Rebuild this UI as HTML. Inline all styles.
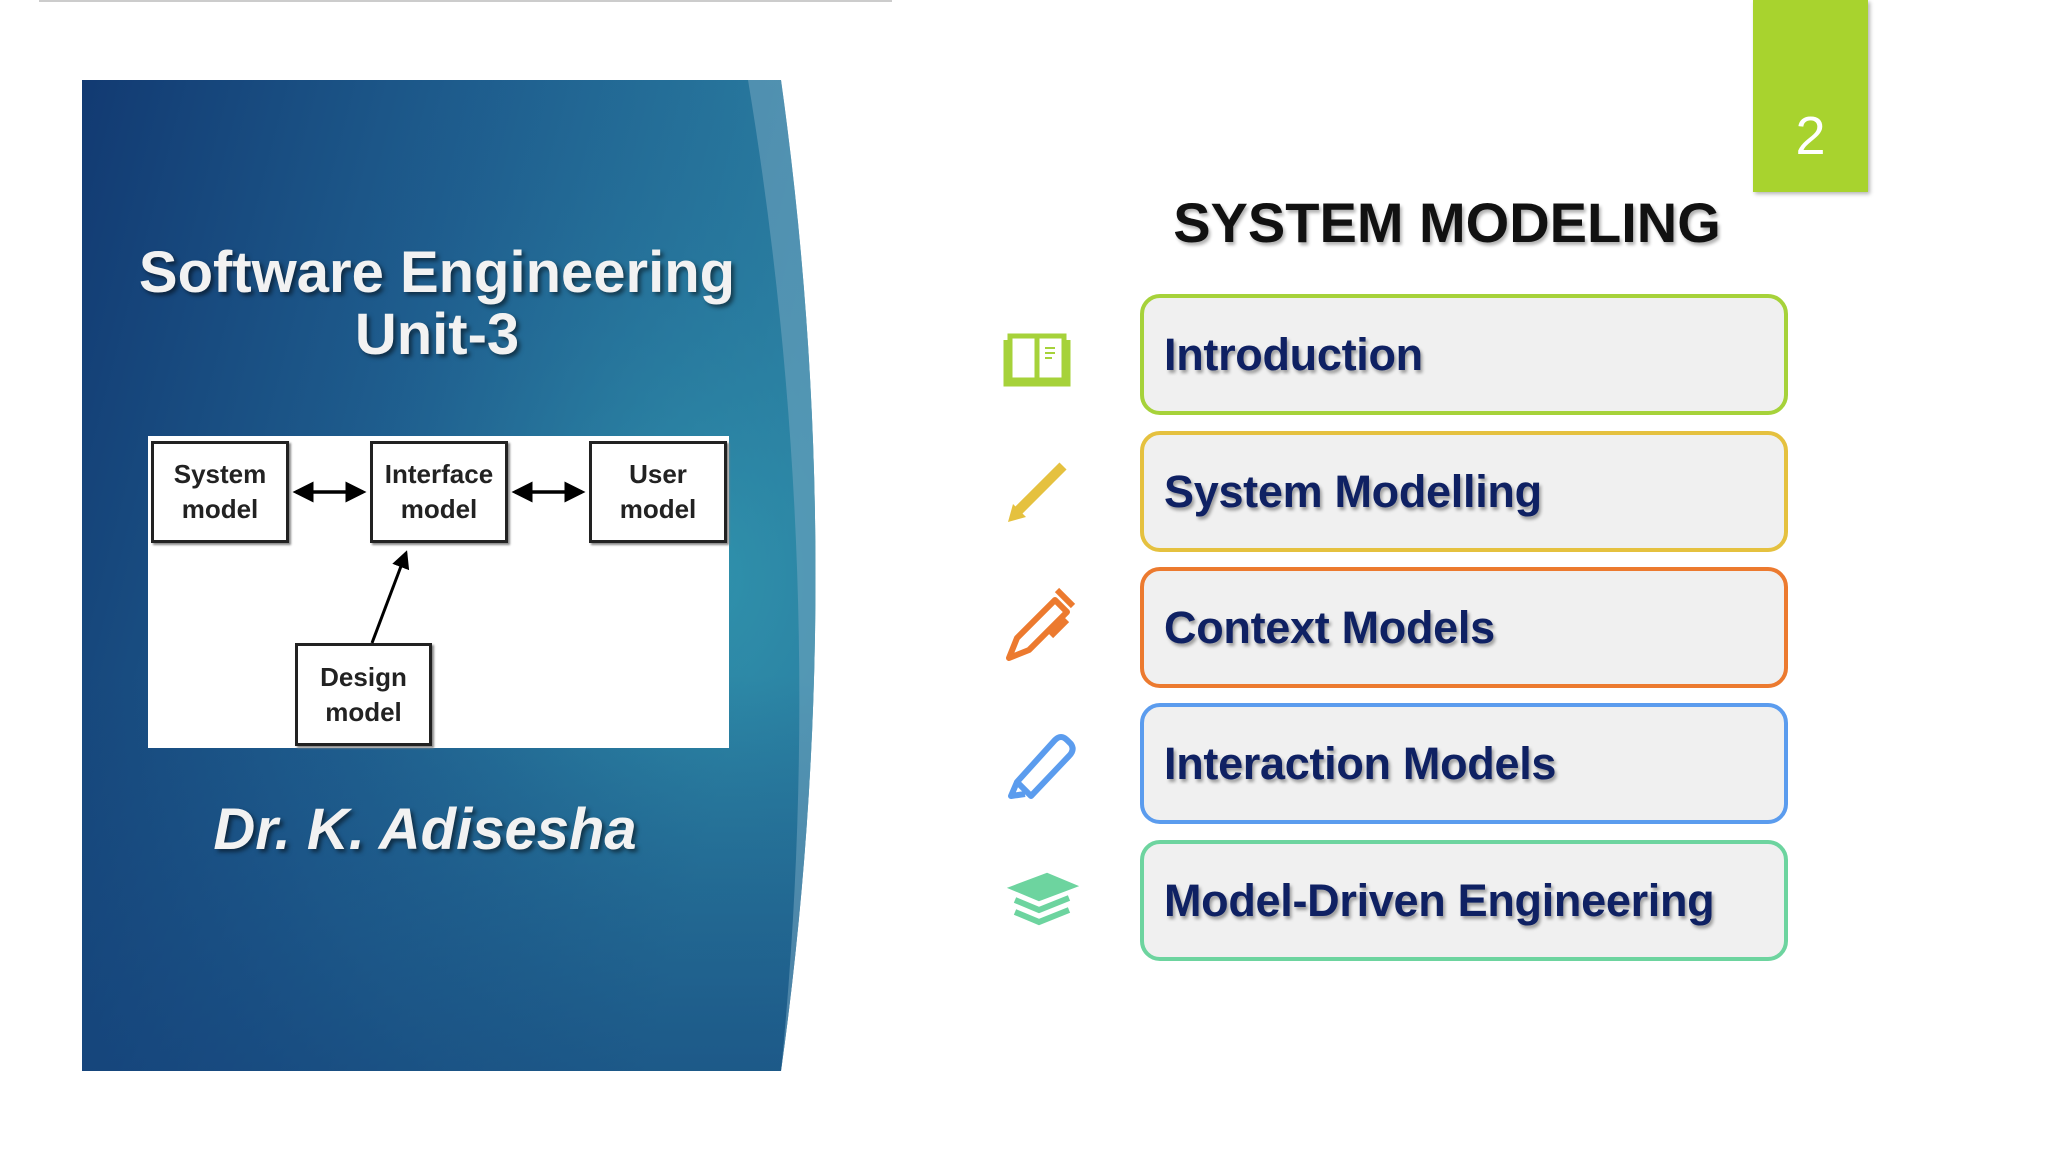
<!DOCTYPE html>
<html><head><meta charset="utf-8"><style>
*{margin:0;padding:0;box-sizing:border-box}
body{width:2048px;height:1152px;background:#fff;position:relative;overflow:hidden;font-family:"Liberation Sans",sans-serif}
.abs{position:absolute}
.item{position:absolute;left:1140px;width:648px;height:121px;border:4px solid;border-radius:20px;background:#f0f0f0;}
.item span{position:absolute;left:20px;top:50%;transform:translateY(-50%);font-weight:bold;font-size:45px;color:#0f2163;text-shadow:2px 3px 3px rgba(0,0,0,.35);white-space:nowrap;letter-spacing:-0.3px}
.box{position:absolute;border:3px solid #222;background:#fff;box-shadow:2px 2px 2px #888;font-weight:bold;font-size:26px;line-height:35px;text-align:center;color:#222;display:flex;align-items:center;justify-content:center}
</style></head><body>
<div class="abs" style="left:39px;top:0;width:853px;height:2px;background:#ccc"></div>
<svg class="abs" style="left:0;top:0" width="1000" height="1152">
<defs>
<linearGradient id="g" x1="0" y1="0" x2="1" y2="0.35">
<stop offset="0" stop-color="#123a72"/><stop offset="0.5" stop-color="#1f5f8f"/><stop offset="1" stop-color="#2e8aa8"/></linearGradient>
<radialGradient id="r" cx="0.85" cy="0.5" r="0.6"><stop offset="0" stop-color="#3196ae" stop-opacity="0.8"/><stop offset="1" stop-color="#1a4f86" stop-opacity="0"/></radialGradient>
<linearGradient id="b" x1="0" y1="0" x2="0" y2="1"><stop offset="0.6" stop-color="#123a72" stop-opacity="0"/><stop offset="1" stop-color="#133d76" stop-opacity="0.6"/></linearGradient>
</defs>
<path d="M82 80 L781 80 Q850 575 781 1071 L82 1071 Z" fill="url(#g)"/>
<path d="M82 80 L781 80 Q850 575 781 1071 L82 1071 Z" fill="url(#r)"/>
<path d="M82 80 L781 80 Q850 575 781 1071 L82 1071 Z" fill="url(#b)"/>
<path d="M748 80 L781 80 Q850 575 781 1071 Q830 575 748 80Z" fill="#7aa9c4" opacity="0.5"/>
</svg>
<div class="abs" style="left:82px;top:242px;width:710px;text-align:center;color:#f2f2f2;font-weight:bold;font-size:58px;line-height:62px;text-shadow:3px 3px 4px rgba(0,0,0,.5)">Software Engineering<br>Unit-3</div>
<div class="abs" style="left:148px;top:436px;width:581px;height:312px;background:#fff"></div>
<div class="box" style="left:151px;top:441px;width:138px;height:102px">System<br>model</div>
<div class="box" style="left:370px;top:441px;width:138px;height:102px">Interface<br>model</div>
<div class="box" style="left:589px;top:441px;width:138px;height:102px">User<br>model</div>
<div class="box" style="left:295px;top:643px;width:137px;height:103px">Design<br>model</div>
<svg class="abs" style="left:0;top:0" width="800" height="800">
<defs><marker id="a" markerWidth="6" markerHeight="6" refX="5" refY="3" orient="auto-start-reverse" markerUnits="strokeWidth"><path d="M0 0L6 3L0 6Z" fill="#000"/></marker></defs>
<line x1="296" y1="492" x2="363" y2="492" stroke="#000" stroke-width="3.5" marker-start="url(#a)" marker-end="url(#a)"/>
<line x1="515" y1="492" x2="582" y2="492" stroke="#000" stroke-width="3.5" marker-start="url(#a)" marker-end="url(#a)"/>
<line x1="372" y1="643" x2="406" y2="553" stroke="#000" stroke-width="3" marker-end="url(#a)"/>
</svg>
<div class="abs" style="left:75px;top:796px;width:700px;text-align:center;color:#f2f2f2;font-weight:bold;font-style:italic;font-size:58px;text-shadow:3px 3px 4px rgba(0,0,0,.5)">Dr. K. Adisesha</div>
<div class="abs" style="left:1753px;top:0;width:115px;height:192px;background:#a8d32e;box-shadow:2px 2px 4px rgba(0,0,0,.3);color:#fff;font-size:54px;text-align:center;line-height:272px">2</div>
<div class="abs" style="left:1147px;top:190px;width:600px;text-align:center;font-weight:bold;font-size:56px;color:#111;text-shadow:2px 3px 3px rgba(0,0,0,.3)">SYSTEM MODELING</div>
<div class="item" style="top:294px;border-color:#a6d23a"><span>Introduction</span></div>
<div class="item" style="top:431px;border-color:#e5c13f"><span>System Modelling</span></div>
<div class="item" style="top:567px;border-color:#ec7a2f"><span>Context Models</span></div>
<div class="item" style="top:703px;border-color:#5b9cee"><span>Interaction Models</span></div>
<div class="item" style="top:840px;border-color:#6dd49f"><span>Model-Driven Engineering</span></div>
<svg class="abs" style="left:995px;top:320px" width="90" height="620">
<g fill="none" stroke="#a6d23a" stroke-width="5"><rect x="15" y="16" width="54" height="44"/><line x1="42" y1="16" x2="42" y2="60"/><path d="M11 20V64H73V20"/></g>
<g stroke="#a6d23a" stroke-width="2"><line x1="50" y1="28" x2="60" y2="28"/><line x1="50" y1="33" x2="60" y2="33"/><line x1="50" y1="38" x2="57" y2="38"/></g>
<g fill="none" stroke="#e5c13f" stroke-width="10" stroke-linejoin="round"><path d="M22 192L68 146"/></g><path d="M13 202L18 184L31 197Z" fill="#e5c13f"/>
<g fill="none" stroke="#ec7a2f" stroke-width="6" stroke-linejoin="round"><path d="M14 338L22 318L60 280L72 292L34 330Z"/><path d="M62 270L78 286"/><path d="M72 300L56 316"/></g>
<g fill="none" stroke="#5b9cee" stroke-width="6" stroke-linejoin="round"><path d="M22 462L60 420Q66 414 72 420L76 424Q80 430 74 436L36 476Z"/><path d="M22 462L16 476L30 474"/></g>
<g fill="none" stroke="#6dd49f" stroke-width="6"><path d="M20 568L52 556L76 566L44 578Z"/><path d="M20 580L44 590L74 578"/><path d="M20 592L44 602L74 590"/></g><path d="M20 568L52 556L76 566L44 578Z" fill="#6dd49f"/>
</svg>
</body></html>
